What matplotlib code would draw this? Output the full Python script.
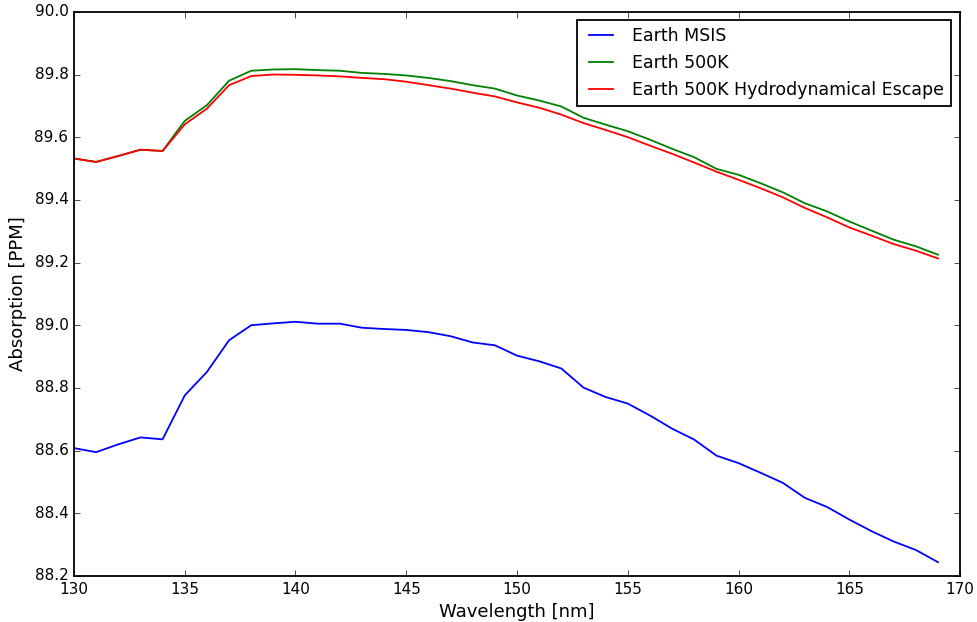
import numpy as np
import matplotlib
matplotlib.use("Agg")
import matplotlib.pyplot as plt

# wavelength grid [nm]
wavelength = np.arange(130, 170)

# absorption [PPM]
earth_msis = [88.608, 88.595, 88.620, 88.642, 88.636, 88.776, 88.851, 88.952, 89.000, 89.006,
              89.011, 89.005, 89.005, 88.992, 88.988, 88.985, 88.978, 88.965, 88.945, 88.936,
              88.903, 88.885, 88.862, 88.801, 88.771, 88.750, 88.712, 88.670, 88.635, 88.584,
              88.560, 88.529, 88.497, 88.449, 88.420, 88.380, 88.343, 88.310, 88.283, 88.244]

earth_500k = [89.532, 89.521, 89.540, 89.560, 89.556, 89.652, 89.702, 89.780, 89.812, 89.816,
              89.817, 89.814, 89.812, 89.805, 89.802, 89.797, 89.789, 89.779, 89.766, 89.755,
              89.733, 89.717, 89.698, 89.662, 89.640, 89.619, 89.592, 89.563, 89.536, 89.499,
              89.480, 89.453, 89.424, 89.389, 89.363, 89.331, 89.302, 89.273, 89.252, 89.225]

earth_500k_escape = [89.532, 89.521, 89.540, 89.560, 89.556, 89.641, 89.691, 89.766, 89.795, 89.800,
                     89.799, 89.797, 89.794, 89.789, 89.785, 89.777, 89.766, 89.755, 89.742, 89.730,
                     89.711, 89.694, 89.672, 89.645, 89.623, 89.600, 89.573, 89.547, 89.519, 89.490,
                     89.464, 89.437, 89.408, 89.374, 89.344, 89.312, 89.286, 89.259, 89.238, 89.213]

plt.style.use('classic')
plt.rcParams['font.size'] = 11
plt.rcParams['axes.linewidth'] = 1.3

fig = plt.figure(figsize=(9.77, 6.22), dpi=100, facecolor='white')
ax = fig.add_axes([0.0757, 0.074, 0.907, 0.907])

ax.plot(wavelength, earth_msis, color='blue', lw=1.3, label='Earth MSIS')
ax.plot(wavelength, earth_500k, color='green', lw=1.3, label='Earth 500K')
ax.plot(wavelength, earth_500k_escape, color='red', lw=1.3, label='Earth 500K Hydrodynamical Escape')

ax.set_xlim(130, 170)
ax.set_ylim(88.2, 90.0)
ax.set_yticks(np.arange(88.2, 90.01, 0.2))
ax.yaxis.set_major_formatter(plt.FormatStrFormatter('%.1f'))
ax.set_xlabel('Wavelength [nm]', fontsize=13)
ax.set_ylabel('Absorption [PPM]', fontsize=13)
leg = ax.legend(loc='upper right', fontsize=12.5)
leg.get_frame().set_linewidth(1.3)

fig.savefig('out.png', dpi=100, facecolor='white')
